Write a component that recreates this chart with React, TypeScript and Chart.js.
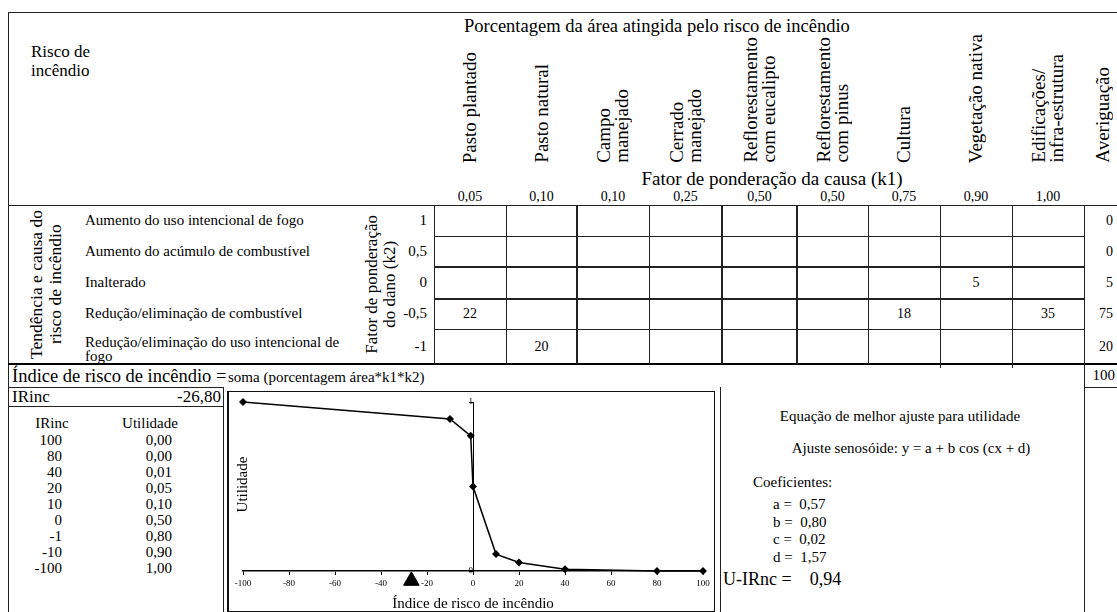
import React, { useEffect, useRef } from "react";
import { Chart, registerables } from "chart.js";

Chart.register(...registerables);

// ---------- data ----------
const LAND_USES = [
  "Pasto plantado",
  "Pasto natural",
  "Campo\nmanejado",
  "Cerrado\nmanejado",
  "Reflorestamento\ncom eucalipto",
  "Reflorestamento\ncom pinus",
  "Cultura",
  "Vegetação nativa",
  "Edificações/\ninfra-estrutura",
];
const K1 = [0.05, 0.1, 0.1, 0.25, 0.5, 0.5, 0.75, 0.9, 1.0];
const CAUSES = [
  "Aumento do uso intencional de fogo",
  "Aumento do acúmulo de combustível",
  "Inalterado",
  "Redução/eliminação de combustível",
  "Redução/eliminação do uso intencional de\nfogo",
];
const K2 = [1, 0.5, 0, -0.5, -1];
const PCT_AUMENTO_USO: (number | null)[] = [null, null, null, null, null, null, null, null, null];
const PCT_AUMENTO_ACUMULO: (number | null)[] = [null, null, null, null, null, null, null, null, null];
const PCT_INALTERADO: (number | null)[] = [null, null, null, null, null, null, null, 5, null];
const PCT_REDUCAO_COMB: (number | null)[] = [22, null, null, null, null, null, 18, null, 35];
const PCT_REDUCAO_USO: (number | null)[] = [null, 20, null, null, null, null, null, null, null];
const PCT_ROWS = [PCT_AUMENTO_USO, PCT_AUMENTO_ACUMULO, PCT_INALTERADO, PCT_REDUCAO_COMB, PCT_REDUCAO_USO];

const IRINC_TABLE = [100, 80, 40, 20, 10, 0, -1, -10, -100];
const UTILIDADE = [0.0, 0.0, 0.01, 0.05, 0.1, 0.5, 0.8, 0.9, 1.0];
const COEF_NAMES = ["a", "b", "c", "d"];
const COEF_VALUES = [0.57, 0.8, 0.02, 1.57];
const U_IRNC = 0.94;
const IRINC_MARKER_Y = -0.058;
const X_MIN = -100;
const X_MAX = 100;
const X_STEP = 20;
const Y_MIN = 0;
const Y_MAX = 1;

// ---------- derived ----------
const ROW_SUMS = PCT_ROWS.map((r) => r.reduce((s: number, v) => s + (v ?? 0), 0));
const TOTAL = ROW_SUMS.reduce((s, v) => s + v, 0);
const IRINC = PCT_ROWS.reduce(
  (s, r, ri) => s + r.reduce((t: number, v, ci) => t + (v ?? 0) * K1[ci] * K2[ri], 0),
  0
);

const fmt2 = (v: number) => v.toFixed(2).replace(".", ",");
const fmtK2 = (v: number) => String(v).replace(".", ",");

// ---------- layout ----------
const SERIF = "'Liberation Serif', 'Times New Roman', serif";
const COLS = [434, 506, 577, 649, 722, 797, 868, 940, 1012, 1084];
const ROWS = [205, 236, 267, 299, 329, 364];
const THICK_COLS = [577, 722, 797];
const THICK_ROWS = [267, 299, 364];

type TProps = {
  x: number;
  y: number;
  size?: number;
  align?: "left" | "center" | "right";
  lh?: number;
  children: React.ReactNode;
  style?: React.CSSProperties;
};
const T = ({ x, y, size = 15, align = "left", lh, children, style }: TProps) => {
  const tx = align === "left" ? "0" : align === "center" ? "-50%" : "-100%";
  return (
    <div
      style={{
        position: "absolute",
        left: x,
        top: y,
        transform: `translate(${tx}, -50%)`,
        fontSize: size,
        lineHeight: lh ? `${lh}px` : 1.15,
        whiteSpace: "pre",
        textAlign: align,
        ...style,
      }}
    >
      {children}
    </div>
  );
};

const H = ({ x1, x2, y, w = 1, c = "#222" }: { x1: number; x2: number; y: number; w?: number; c?: string }) => (
  <div style={{ position: "absolute", left: x1, top: y - w / 2, width: x2 - x1, height: w, background: c }} />
);
const V = ({ x, y1, y2, w = 1, c = "#222" }: { x: number; y1: number; y2: number; w?: number; c?: string }) => (
  <div style={{ position: "absolute", left: x - w / 2, top: y1, width: w, height: y2 - y1, background: c }} />
);

const Rot = ({
  left,
  width,
  top,
  height,
  size,
  lh,
  align,
  vAlign,
  children,
}: {
  left: number;
  width: number;
  top: number;
  height: number;
  size: number;
  lh: number;
  align: "start" | "center";
  vAlign: "flex-end" | "center";
  children: React.ReactNode;
}) => (
  <div
    style={{
      position: "absolute",
      left,
      top,
      width,
      height,
      display: "flex",
      justifyContent: "center",
      alignItems: vAlign,
    }}
  >
    <span
      style={{
        writingMode: "vertical-rl",
        transform: "rotate(180deg)",
        whiteSpace: "pre",
        fontSize: size,
        lineHeight: `${lh}px`,
        textAlign: align,
      }}
    >
      {children}
    </span>
  </div>
);

const yTitlePlugin = {
  id: "yTitleUtilidade",
  afterDraw(chart: any) {
    const { ctx, chartArea } = chart;
    ctx.save();
    ctx.translate(chartArea.left, (chartArea.top + chartArea.bottom) / 2 - 2);
    ctx.rotate(-Math.PI / 2);
    ctx.font = `15px ${SERIF}`;
    ctx.fillStyle = "#000";
    ctx.textAlign = "center";
    ctx.textBaseline = "middle";
    ctx.fillText("Utilidade", 0, 0);
    ctx.restore();
  },
};

function UtilityChart() {
  const ref = useRef<HTMLCanvasElement>(null);
  useEffect(() => {
    if (!ref.current) return;
    const chart = new Chart(ref.current, {
      type: "scatter",
      data: {
        datasets: [
          {
            data: IRINC_TABLE.map((x, i) => ({ x, y: UTILIDADE[i] })),
            showLine: true,
            borderColor: "#000",
            borderWidth: 1.5,
            pointStyle: "rectRot",
            pointRadius: 4,
            pointBackgroundColor: "#000",
            pointBorderColor: "#000",
            pointBorderWidth: 0,
            clip: false as any,
          },
          {
            data: [{ x: IRINC, y: IRINC_MARKER_Y }],
            showLine: false,
            pointStyle: "triangle",
            pointRadius: 9,
            pointBackgroundColor: "#000",
            pointBorderColor: "#000",
            pointBorderWidth: 1,
            clip: false as any,
          },
        ],
      },
      options: {
        animation: false,
        responsive: false,
        layout: { padding: { left: 14, right: 10, top: 9, bottom: 0 } },
        plugins: { legend: { display: false }, tooltip: { enabled: false } },
        scales: {
          x: {
            type: "linear",
            position: "bottom",
            min: X_MIN,
            max: X_MAX,
            ticks: {
              stepSize: X_STEP,
              font: { family: SERIF, size: 9 },
              color: "#000",
              padding: 3,
              maxRotation: 0,
              autoSkip: false,
            },
            grid: { drawOnChartArea: false, drawTicks: true, tickLength: 4, color: "#000" },
            border: { display: true, color: "#000", width: 1.5 },
            title: {
              display: true,
              text: "Índice de risco de incêndio",
              font: { family: SERIF, size: 15, lineHeight: 0.8 },
              color: "#000",
              padding: 0,
            },
            afterFit: (s: any) => {
              s.height = 39;
            },
          },
          y: {
            type: "linear",
            position: { x: 0 } as any,
            min: Y_MIN,
            max: Y_MAX,
            ticks: { stepSize: 1, font: { family: SERIF, size: 9 }, color: "#000", padding: 3 },
            grid: { drawOnChartArea: false, drawTicks: true, tickLength: 4, color: "#000" },
            border: { display: true, color: "#000", width: 1 },
          },
        },
      },
      plugins: [yTitlePlugin],
    });
    return () => chart.destroy();
  }, []);
  return <canvas ref={ref} width={484} height={218} style={{ display: "block" }} />;
}

export default function App() {
  const colCenter = (i: number) => (COLS[i] + COLS[i + 1]) / 2;
  const rowCenter = (i: number) => (ROWS[i] + ROWS[i + 1]) / 2;
  return (
    <div
      style={{
        position: "absolute",
        left: 0,
        top: 0,
        width: 1117,
        height: 612,
        overflow: "hidden",
        background: "#fff",
        fontFamily: SERIF,
        color: "#000",
      }}
    >
      {/* outer frame */}
      <H x1={8} x2={1117} y={12} />
      <V x={8} y1={12} y2={612} />

      {/* header */}
      <T x={31} y={61} size={17} lh={19}>
        {"Risco de\nincêndio"}
      </T>
      <T x={464} y={27} size={18.5}>
        Porcentagem da área atingida pelo risco de incêndio
      </T>
      {LAND_USES.map((lab, i) => (
        <Rot
          key={lab}
          left={COLS[i]}
          width={COLS[i + 1] - COLS[i]}
          top={14}
          height={149}
          size={19}
          lh={18}
          align="start"
          vAlign="flex-end"
        >
          {lab}
        </Rot>
      ))}
      <Rot left={1084} width={38} top={14} height={149} size={19} lh={18} align="start" vAlign="flex-end">
        Averiguação
      </Rot>
      <T x={772} y={179} size={19} align="center">
        Fator de ponderação da causa (k1)
      </T>
      {K1.map((k, i) => (
        <T key={i} x={colCenter(i)} y={197} size={14} align="center">
          {fmt2(k)}
        </T>
      ))}

      {/* table grid */}
      <H x1={8} x2={1117} y={ROWS[0]} />
      {ROWS.slice(1, -1).map((y) => (
        <H key={y} x1={COLS[0]} x2={COLS[COLS.length - 1]} y={y} w={THICK_ROWS.includes(y) ? 2.5 : 1} />
      ))}
      <H x1={8} x2={1117} y={ROWS[ROWS.length - 1]} w={2.5} c="#000" />
      {COLS.map((x) => (
        <V key={x} x={x} y1={ROWS[0]} y2={ROWS[ROWS.length - 1]} w={THICK_COLS.includes(x) ? 2.5 : 1} />
      ))}
      <V x={940} y1={364} y2={368} />
      <V x={1012} y1={364} y2={368} />

      <Rot left={6} width={80} top={205} height={159} size={17.5} lh={19} align="center" vAlign="center">
        {"Tendência e causa do\nrisco de incêndio"}
      </Rot>
      <Rot left={341} width={80} top={205} height={159} size={17} lh={18} align="center" vAlign="center">
        {"Fator de ponderação\ndo dano (k2)"}
      </Rot>
      {CAUSES.map((c, i) => (
        <T key={c} x={85} y={rowCenter(i) + (i === 4 ? 2 : 0)} size={15} lh={i === 4 ? 14 : undefined}>
          {c}
        </T>
      ))}
      {K2.map((k, i) => (
        <T key={i} x={427} y={rowCenter(i)} size={15} align="right">
          {fmtK2(k)}
        </T>
      ))}
      {PCT_ROWS.map((row, ri) =>
        row.map((v, ci) =>
          v == null ? null : (
            <T key={`${ri}-${ci}`} x={colCenter(ci)} y={rowCenter(ri)} size={14} align="center">
              {String(v)}
            </T>
          )
        )
      )}
      {ROW_SUMS.map((s, i) => (
        <T key={i} x={1113} y={rowCenter(i)} size={14} align="right">
          {String(s)}
        </T>
      ))}

      {/* index row */}
      <T x={12} y={377} size={18.5}>
        {"Índice de risco de incêndio ="}
      </T>
      <T x={228} y={378} size={15}>
        soma (porcentagem área*k1*k2)
      </T>
      <V x={1084} y1={364} y2={612} />
      <H x1={1084} x2={1117} y={387} />
      <T x={1115} y={376} size={15} align="right">
        {String(TOTAL)}
      </T>

      {/* IRinc box */}
      <div
        style={{
          position: "absolute",
          left: 8,
          top: 387,
          width: 216,
          height: 20,
          border: "1px solid #222",
          boxSizing: "border-box",
        }}
      />
      <T x={12} y={397} size={17}>
        IRinc
      </T>
      <T x={221} y={397} size={17} align="right">
        {fmt2(IRINC)}
      </T>

      {/* utility table */}
      <div
        style={{
          position: "absolute",
          left: 8,
          top: 406,
          width: 216,
          height: 220,
          border: "1px solid #222",
          boxSizing: "border-box",
        }}
      />
      <T x={52} y={424} size={15} align="center">
        IRinc
      </T>
      <T x={150} y={424} size={15} align="center">
        Utilidade
      </T>
      {IRINC_TABLE.map((v, i) => (
        <React.Fragment key={i}>
          <T x={62} y={441 + i * 16} size={15} align="right">
            {String(v)}
          </T>
          <T x={172} y={441 + i * 16} size={15} align="right">
            {fmt2(UTILIDADE[i])}
          </T>
        </React.Fragment>
      ))}

      {/* chart box */}
      <div
        style={{
          position: "absolute",
          left: 227,
          top: 391,
          width: 488,
          height: 221,
          border: "1px solid #111",
          borderLeftWidth: 2,
          boxSizing: "border-box",
        }}
      />
      <div style={{ position: "absolute", left: 229, top: 392, width: 484, height: 218 }}>
        <UtilityChart />
      </div>

      {/* equation box */}
      <V x={720} y1={387} y2={612} />
      <T x={900} y={417} size={15} align="center">
        Equação de melhor ajuste para utilidade
      </T>
      <T x={911} y={449} size={15} align="center">
        Ajuste senosóide: y = a + b cos (cx + d)
      </T>
      <T x={753} y={483} size={15}>
        Coeficientes:
      </T>
      {COEF_NAMES.map((n, i) => (
        <T key={n} x={773} y={505 + i * 17.7} size={15}>
          {`${n} =  ${fmt2(COEF_VALUES[i])}`}
        </T>
      ))}
      <T x={723} y={579} size={18}>
        {`U-IRnc =    ${fmt2(U_IRNC)}`}
      </T>
    </div>
  );
}
